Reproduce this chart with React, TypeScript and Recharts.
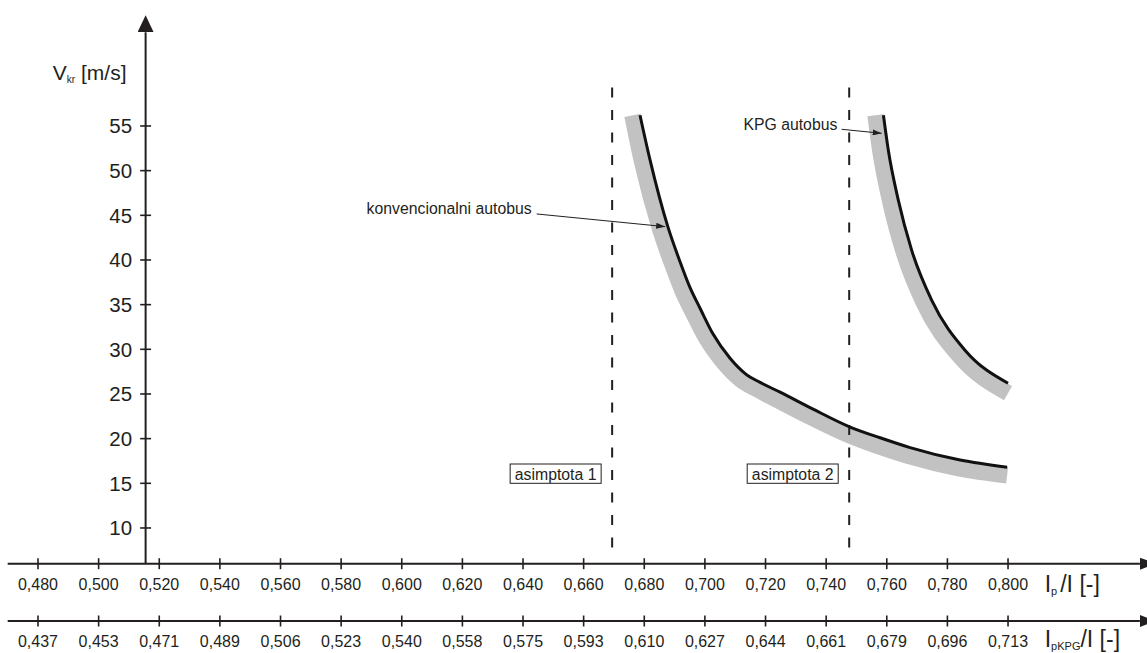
import { ComposedChart, Line, XAxis, YAxis, ReferenceLine, ReferenceDot } from 'recharts'

// l_p/l ticks on the main axis and the matching l_pKPG/l labels on the second axis
const ipTicks = [0.48, 0.5, 0.52, 0.54, 0.56, 0.58, 0.6, 0.62, 0.64, 0.66, 0.68, 0.7, 0.72, 0.74, 0.76, 0.78, 0.8]
const kpgTickLabels = ['0,437', '0,453', '0,471', '0,489', '0,506', '0,523', '0,540', '0,558', '0,575', '0,593', '0,610', '0,627', '0,644', '0,661', '0,679', '0,696', '0,713']
const vTicks = [10, 15, 20, 25, 30, 35, 40, 45, 50, 55]

const asymptotes = [0.6694, 0.7476]
const asymptoteLabels = ['asimptota 1', 'asimptota 2']

// konvencionalni autobus (black line + grey band)
const convX = [0.6786, 0.6819, 0.6878, 0.6918, 0.6951, 0.6984, 0.7027, 0.7083, 0.7136, 0.7182, 0.7248, 0.7357, 0.7479, 0.7578, 0.7677, 0.7842, 0.7997]
const convY = [56.2, 51.2, 43.7, 39.8, 36.9, 34.6, 31.7, 29.0, 27.2, 26.3, 25.2, 23.3, 21.3, 20.1, 19.0, 17.6, 16.8]
const convBandX = [0.6761, 0.6793, 0.6853, 0.6893, 0.6927, 0.696, 0.7004, 0.7063, 0.7119, 0.7169, 0.7236, 0.7345, 0.7469, 0.7569, 0.7669, 0.7837, 0.7997]
const convBandY = [56.2, 51.0, 43.4, 39.5, 36.5, 34.2, 31.3, 28.5, 26.6, 25.6, 24.4, 22.5, 20.5, 19.2, 18.1, 16.7, 15.9]

// KPG autobus
const kpgX = [0.7589, 0.7605, 0.7638, 0.7682, 0.7748, 0.7858, 0.8]
const kpgY = [56.2, 52.3, 46.7, 41.1, 35.5, 29.9, 26.2]
const kpgBandX = [0.7563, 0.7579, 0.7612, 0.7657, 0.7724, 0.7839, 0.8]
const kpgBandY = [56.2, 52.2, 46.5, 40.8, 35.1, 29.3, 25.1]

const INK = '#231f20'
const BAND = '#c2c2c2'
const FONT = '"Liberation Sans", Arial, Helvetica, sans-serif'

const X_DOMAIN: [number, number] = [0.47, 0.8435]
const Y_DOMAIN: [number, number] = [6, 67.3]
const Y_CROSS = 0.5155
const TICK_HALF = 0.0018

const pts = (xs: number[], ys: number[]) => xs.map((x, i) => ({ x, y: ys[i] }))

function AxisTick(props: any) {
  const { x, y, text } = props
  return (
    <g>
      <line x1={x} x2={x} y1={y - 5.5} y2={y + 5.5} stroke={INK} strokeWidth={1.6} />
      <text x={x} y={y + 26} textAnchor="middle" fontSize={16} fontFamily={FONT} fill={INK}>{text}</text>
    </g>
  )
}

function AsymLabel(props: any) {
  const { cx, cy, text } = props
  const w = 91
  const h = 19.3
  const left = cx - 11 - w
  return (
    <g>
      <rect x={left} y={cy - h / 2} width={w} height={h} fill="#fff" stroke={INK} strokeWidth={1} />
      <text x={left + w / 2} y={cy + 6.3} textAnchor="middle" fontSize={15.8} fontFamily={FONT} fill={INK}>{text}</text>
    </g>
  )
}

function Note(props: any) {
  const { cx, cy, text } = props
  return <text x={cx} y={cy} fontSize={15.8} fontFamily={FONT} fill={INK}>{text}</text>
}

function Title(props: any) {
  const { cx, cy, main, sub, rest, size, subSize, gap } = props
  return (
    <text x={cx} y={cy} fontSize={size} fontFamily={FONT} fill={INK}>
      {main}
      <tspan fontSize={subSize} dy={3}>{sub}</tspan>
      <tspan fontSize={size} dy={-3} dx={gap}>{rest}</tspan>
    </text>
  )
}

export default function App() {
  return (
    <div style={{ position: 'absolute', left: 0, top: 0, width: 1147, height: 653, background: '#fff' }}>
      <ComposedChart width={1147} height={653} margin={{ top: 16.1, right: 7.1, bottom: 0, left: 7.69 }}>
        <defs>
          <marker id="arrowX" viewBox="0 0 16 12" refX="0" refY="6" markerWidth="16" markerHeight="12" markerUnits="userSpaceOnUse" orient="auto">
            <path d="M0,0 L16,6 L0,12 z" fill={INK} />
          </marker>
          <marker id="arrowY" viewBox="0 0 17 16" refX="0" refY="8" markerWidth="17" markerHeight="16" markerUnits="userSpaceOnUse" orient="auto">
            <path d="M0,0 L17,8 L0,16 z" fill={INK} />
          </marker>
          <marker id="pointer" viewBox="0 0 9 6" refX="9" refY="3" markerWidth="9" markerHeight="6" markerUnits="userSpaceOnUse" orient="auto">
            <path d="M0,0 L9,3 L0,6 z" fill={INK} />
          </marker>
        </defs>

        <XAxis
          type="number"
          dataKey="x"
          domain={X_DOMAIN}
          ticks={ipTicks}
          interval={0}
          allowDataOverflow
          height={57.3}
          tickSize={0}
          tickMargin={0}
          tickLine={false}
          axisLine={{ stroke: INK, strokeWidth: 2, markerEnd: 'url(#arrowX)' }}
          tick={(p: any) => <AxisTick {...p} text={p.payload.value.toFixed(3).replace('.', ',')} />}
        />
        <XAxis
          xAxisId="kpg"
          type="number"
          dataKey="x"
          domain={X_DOMAIN}
          ticks={ipTicks}
          interval={0}
          allowDataOverflow
          height={32}
          tickSize={0}
          tickMargin={0}
          tickLine={false}
          axisLine={{ stroke: INK, strokeWidth: 2, markerEnd: 'url(#arrowX)' }}
          tick={(p: any) => <AxisTick {...p} text={kpgTickLabels[p.index]} />}
        />
        <YAxis type="number" domain={Y_DOMAIN} hide allowDataOverflow />

        {/* vertical axis with its ticks */}
        <ReferenceLine
          segment={[{ x: Y_CROSS, y: Y_DOMAIN[0] }, { x: Y_CROSS, y: 65.5 }]}
          stroke={INK}
          strokeWidth={2}
          markerEnd="url(#arrowY)"
        />
        {vTicks.map(v => (
          <ReferenceLine
            key={v}
            segment={[{ x: Y_CROSS - TICK_HALF, y: v }, { x: Y_CROSS + TICK_HALF, y: v }]}
            stroke={INK}
            strokeWidth={1.6}
            label={{ value: String(v), position: 'left', offset: 8, fontSize: 20.5, fill: INK, fontFamily: FONT }}
          />
        ))}

        <Line data={pts(convBandX, convBandY)} dataKey="y" type="monotone" stroke={BAND} strokeWidth={16.5} strokeLinecap="butt" dot={false} activeDot={false} isAnimationActive={false} />
        <Line data={pts(kpgBandX, kpgBandY)} dataKey="y" type="monotone" stroke={BAND} strokeWidth={16.5} strokeLinecap="butt" dot={false} activeDot={false} isAnimationActive={false} />

        {asymptotes.map(a => (
          <ReferenceLine
            key={a}
            segment={[{ x: a, y: 59.3 }, { x: a, y: 7.0 }]}
            stroke={INK}
            strokeWidth={2}
            strokeDasharray="10 12.5"
          />
        ))}

        <Line data={pts(convX, convY)} dataKey="y" type="monotone" stroke="#111" strokeWidth={3} dot={false} activeDot={false} isAnimationActive={false} />
        <Line data={pts(kpgX, kpgY)} dataKey="y" type="monotone" stroke="#111" strokeWidth={3} dot={false} activeDot={false} isAnimationActive={false} />

        {asymptotes.map((a, i) => (
          <ReferenceDot key={'l' + a} x={a} y={16.08} r={0} ifOverflow="visible" shape={(p: any) => <AsymLabel {...p} text={asymptoteLabels[i]} />} />
        ))}

        {/* curve annotations */}
        <ReferenceDot x={0.5884} y={45.15} r={0} ifOverflow="visible" shape={(p: any) => <Note {...p} text="konvencionalni autobus" />} />
        <ReferenceLine segment={[{ x: 0.6445, y: 45.15 }, { x: 0.6869, y: 43.73 }]} stroke={INK} strokeWidth={1} markerEnd="url(#pointer)" />
        <ReferenceDot x={0.7127} y={54.55} r={0} ifOverflow="visible" shape={(p: any) => <Note {...p} text="KPG autobus" />} />
        <ReferenceLine segment={[{ x: 0.7451, y: 54.63 }, { x: 0.7583, y: 54.18 }]} stroke={INK} strokeWidth={1} markerEnd="url(#pointer)" />

        {/* axis titles */}
        <ReferenceDot x={0.4849} y={60.15} r={0} ifOverflow="visible" shape={(p: any) => <Title {...p} main="V" sub="kr" rest=" [m/s]" size={21} subSize={10} gap={0} />} />
        <ReferenceDot x={0.8121} y={2.87} r={0} ifOverflow="visible" shape={(p: any) => <Title {...p} main="I" sub="p" rest="/I [-]" size={23} subSize={11} gap={3} />} />
        <ReferenceDot x={0.8121} y={-3.29} r={0} ifOverflow="visible" shape={(p: any) => <Title {...p} main="I" sub="pKPG" rest="/I [-]" size={23} subSize={11} gap={0} />} />
      </ComposedChart>
    </div>
  )
}
